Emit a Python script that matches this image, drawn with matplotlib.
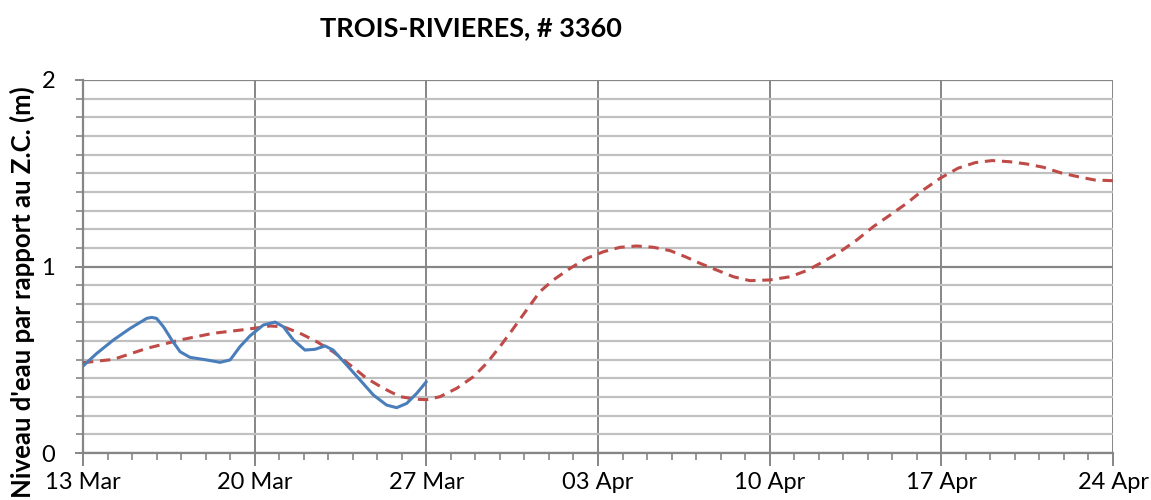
import matplotlib
matplotlib.use("Agg")
import matplotlib.pyplot as plt
from matplotlib.ticker import MultipleLocator, FixedLocator, FixedFormatter

plt.rcParams['font.family'] = ['Lato', 'DejaVu Sans']

# days after 13 Mar
obs_day = [0.0, 0.56, 1.24, 1.92, 2.6, 2.8, 3.0, 3.28, 3.62, 3.96, 4.36, 5.04, 5.59, 6.0,
           6.4, 6.81, 7.35, 7.83, 8.17, 8.58, 9.05, 9.46, 9.87, 10.2, 10.75, 11.3, 11.84,
           12.38, 12.79, 13.2, 13.61, 14.0]
obs_level = [0.466, 0.534, 0.606, 0.668, 0.722, 0.727, 0.722, 0.677, 0.606, 0.543, 0.513,
             0.499, 0.486, 0.499, 0.57, 0.628, 0.686, 0.702, 0.677, 0.606, 0.552, 0.556,
             0.574, 0.552, 0.472, 0.391, 0.311, 0.257, 0.243, 0.266, 0.32, 0.382]

pred_day = [0.0, 1.24, 2.6, 3.96, 5.31, 6.67, 7.63, 8.17, 8.85, 9.53, 10.2, 10.89, 11.57,
            12.25, 12.93, 13.61, 14.01, 14.56, 15.24, 15.92, 16.46, 17.0, 17.55, 18.09,
            18.63, 19.18, 19.86, 20.54, 21.22, 21.9, 22.58, 23.26, 23.94, 24.55, 25.16,
            25.84, 26.52, 27.2, 28.01, 28.83, 29.51, 30.19, 30.87, 31.55, 32.23, 32.91,
            33.59, 34.26, 34.95, 35.68, 36.38, 37.07, 37.77, 38.47, 39.16, 39.85, 40.55,
            41.25, 42.0]
pred_level = [0.484, 0.502, 0.561, 0.606, 0.642, 0.663, 0.681, 0.677, 0.642, 0.597, 0.543,
              0.472, 0.40, 0.347, 0.302, 0.288, 0.286, 0.302, 0.347, 0.409, 0.481, 0.57,
              0.668, 0.767, 0.865, 0.928, 0.99, 1.044, 1.079, 1.103, 1.11, 1.103, 1.085,
              1.053, 1.017, 0.981, 0.945, 0.924, 0.928, 0.945, 0.978, 1.026, 1.079, 1.142,
              1.214, 1.276, 1.339, 1.41, 1.473, 1.527, 1.557, 1.568, 1.562, 1.55, 1.532,
              1.503, 1.482, 1.464, 1.46]

tick_days = [0, 7, 14, 21, 28, 35, 42]
tick_labels = ["13 Mar", "20 Mar", "27 Mar", "03 Apr", "10 Apr", "17 Apr", "24 Apr"]
y_ticks = [0, 1, 2]
y_labels = ["0", "1", "2"]

title = "TROIS-RIVIERES, # 3360"
ylabel = "Niveau d'eau par rapport au Z.C. (m)"

GRID_MAJ = "#868686"
GRID_MIN = "#c0c0c0"

fig = plt.figure(figsize=(11.51, 5.0), dpi=100)
ax = fig.add_axes([83/1151, 1-453/500, (1113-83)/1151, (453-80)/500])

ax.set_xlim(0, 42)
ax.set_ylim(0, 2)

ax.xaxis.set_major_locator(FixedLocator(tick_days))
ax.xaxis.set_major_formatter(FixedFormatter(tick_labels))
ax.xaxis.set_minor_locator(MultipleLocator(1))
ax.yaxis.set_major_locator(FixedLocator(y_ticks))
ax.yaxis.set_major_formatter(FixedFormatter(y_labels))
ax.yaxis.set_minor_locator(MultipleLocator(0.1))

ax.grid(which='minor', axis='y', color=GRID_MIN, linewidth=1.6, zorder=0)
ax.grid(which='major', axis='y', color=GRID_MAJ, linewidth=1.6, zorder=0.5)
ax.grid(which='major', axis='x', color=GRID_MAJ, linewidth=1.4, zorder=0.5)
ax.set_axisbelow(True)

for s in ['top', 'right']:
    ax.spines[s].set_visible(False)
for s in ['left', 'bottom']:
    ax.spines[s].set_color(GRID_MAJ)
    ax.spines[s].set_linewidth(1.6)

ax.tick_params(axis='x', which='major', length=9, width=1.4, color=GRID_MAJ,
               labelsize=17, pad=5, labelcolor='black')
ax.tick_params(axis='x', which='minor', length=5, width=1.2, color=GRID_MAJ)
ax.tick_params(axis='y', which='major', length=6, width=1.4, color=GRID_MAJ,
               labelsize=17, pad=14, labelcolor='black')
ax.tick_params(axis='y', which='minor', length=5, width=1.2, color=GRID_MAJ)

ax.plot(pred_day, pred_level, color="#be4b48", linewidth=2.2, linestyle=(0, (3.4, 2.2)),
        zorder=3, solid_joinstyle='round')
ax.plot(obs_day, obs_level, color="#4a7ebb", linewidth=2.2, zorder=4,
        solid_joinstyle='round', solid_capstyle='round')

fig.text(471/1151, 1-28/500, title, ha='center', va='center', fontsize=19.5,
         fontweight='bold')
fig.text(22/1151, 1-292/500, ylabel, ha='center', va='center', rotation=90,
         fontsize=18.5, fontweight='bold')

fig.savefig("out.png", dpi=100)
